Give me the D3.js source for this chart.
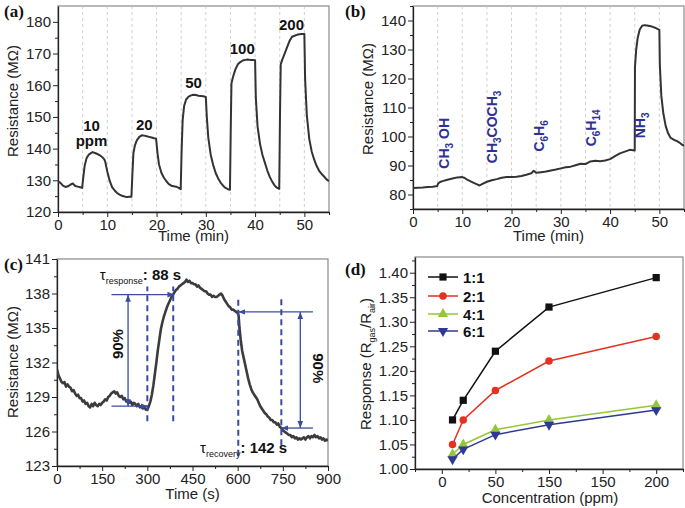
<!DOCTYPE html>
<html>
<head>
<meta charset="utf-8">
<script src="https://cdn.jsdelivr.net/npm/d3@7"></script>
<style>
  body { margin: 0; background: #fff; }
  svg { display: block; font-family: "Liberation Sans", Arial, sans-serif; }
  .tick text { font-family: "Liberation Sans", Arial, sans-serif; font-size: 15px; fill: #222; }
  .axis path, .axis line { stroke: #222; }
  .minor line { stroke: #222; }
  .title { font-size: 15px; fill: #222; }
  .plabel { font-family: "Liberation Serif", "Times New Roman", serif; font-weight: bold; font-size: 17px; fill: #111; }
</style>
</head>
<body>
<svg id="fig" width="685" height="508"></svg>
<script>
// ---- (a) response to NH3 concentrations: [time min, resistance MOhm]
const resistanceA = [
  [0,129.7],[0.5,129.2],[1,128.3],[1.5,127.9],[2,128.1],[2.5,128.6],[3,129.0],[3.5,128.2],[4,128.0],[4.5,127.8],[4.9,127.6],
  [5.1,130.5],[5.4,134.5],[5.8,137.0],[6.3,138.2],[7,138.9],[7.5,138.6],[8,138.3],[8.5,137.9],[9,137.3],[9.4,136.6],[9.6,135.8],
  [10,132.8],[10.5,129.8],[11,127.8],[11.5,126.8],[12,126.0],[12.5,125.5],[13,125.1],[13.5,124.9],[14,124.7],[14.5,124.8],[14.9,124.8],
  [15.1,132],[15.3,138.5],[15.6,141.0],[16,142.6],[16.5,143.7],[17,144.2],[17.5,144.1],[18,143.9],[18.5,143.7],[19,143.5],[19.5,143.3],[19.9,143.2],
  [20.2,138.5],[20.5,135.0],[21,132.3],[21.5,130.8],[22,129.7],[22.5,128.8],[23,128.3],[23.5,128.1],[24,128.0],[24.5,127.6],[24.9,127.2],
  [25.1,140],[25.3,149],[25.6,153.5],[26,155.5],[26.5,156.4],[27,156.8],[27.5,157.0],[28,156.9],[28.5,156.7],[29,156.6],[29.5,156.5],[30,156.3],
  [30.2,150],[30.5,143.5],[31,138.0],[31.5,134.8],[32,132.3],[32.5,130.6],[33,129.3],[33.5,128.3],[34,127.6],[34.5,127.2],[34.9,127.0],
  [35.05,145],[35.2,160.5],[35.5,162.5],[36,165.0],[36.5,166.6],[37,167.3],[37.5,167.8],[38,168.0],[38.5,168.1],[39,168.0],[39.5,168.0],[40,167.9],
  [40.15,156],[40.5,147],[41,141.5],[41.5,138.0],[42,135.5],[42.5,133.0],[43,131.0],[43.5,129.5],[44,128.3],[44.5,127.6],[44.9,127.3],
  [45.05,150],[45.2,166.6],[45.5,168.0],[46,170.0],[46.5,172.0],[47,174.0],[47.5,175.3],[48,175.6],[48.5,175.9],[49,176.1],[49.5,176.2],[50,176.2],
  [50.15,162],[50.5,150.5],[51,143.0],[51.5,139.0],[52,136.5],[52.5,134.5],[53,133.0],[53.5,132.0],[54,131.2],[54.5,130.3],[55,129.7]
];
const concLabelsA = [
  { text: "10", t: 6.8, r: 145.7 }, { text: "ppm", t: 6.8, r: 140.8 },
  { text: "20", t: 17.5, r: 145.8 }, { text: "50", t: 27.5, r: 159.1 },
  { text: "100", t: 37.4, r: 169.7 }, { text: "200", t: 47.4, r: 177.5 }
];

// ---- (b) selectivity: [time min, resistance MOhm]
const resistanceB = [
  [0,82.2],[1,82.3],[2,82.4],[3,82.6],[4,82.7],[4.9,82.9],[5.1,83.8],[5.5,84.3],[6,84.6],[7,85.1],[8,85.5],[9,85.9],[10,86.0],
  [10.5,85.7],[11,85.1],[12,84.3],[13,83.5],[13.5,83.1],[14,83.6],[15,84.4],[16,84.9],[17,85.3],[18,85.8],[19,86.0],[20,86.0],
  [21,86.1],[22,86.4],[23,86.8],[24,87.3],[24.5,88.2],[25,87.5],[26,87.7],[27,87.9],[28,88.3],[29,88.6],[30,89.0],[31,89.4],
  [32,89.6],[33,90.1],[34,90.6],[35,90.5],[36,91.4],[37,91.6],[38,91.5],[39,91.7],[40,92.2],[41,93.2],[42,94.2],[43,94.8],
  [44,95.4],[45,95.2],[45.05,124],[45.3,130],[45.6,134],[46,136.8],[46.5,138.2],[47,138.4],[47.5,138.3],[48,138.1],[48.5,137.9],
  [49,137.6],[49.5,137.2],[50,136.8],[50.1,124.5],[50.4,114],[50.8,108],[51.3,103.5],[51.8,101],[52.3,99.5],[53,98.8],
  [53.5,98.5],[54,98.0],[54.5,97.3],[55,96.8]
];
const gasLabelsB = [
  { text: "CH3 OH", t: 8.2, r: 88.9 },
  { text: "CH3COCH3", t: 17.9, r: 90.8 },
  { text: "C6H6", t: 27.3, r: 94.8 },
  { text: "C6H14", t: 37.9, r: 96.6 },
  { text: "NH3", t: 47.8, r: 99.4 }
];

// ---- (c) response / recovery at 10 ppm: [time s, resistance MOhm]
const resistanceC = [
  [0,131.4],[5,130.9],[10,130.6],[15,130.3],[20,130.2],[25,130.3],[30,129.9],[35,130.1],[40,129.9],[45,129.8],[50,129.5],
  [55,129.6],[60,129.3],[65,129.1],[70,129.2],[75,128.9],[80,128.9],[85,128.6],[90,128.7],[95,128.4],[100,128.5],[105,128.2],
  [110,128.1],[115,128.4],[120,128.2],[125,128.5],[130,128.3],[135,128.2],[140,128.4],[145,128.3],[150,128.5],[155,128.6],
  [160,128.8],[165,128.7],[170,129.0],[175,129.1],[180,129.3],[185,129.4],[190,129.5],[195,129.3],[200,129.4],[205,129.1],
  [210,129.0],[215,129.1],[220,128.8],[225,128.9],[230,128.6],[235,128.7],[240,128.5],[245,128.6],[250,128.3],[255,128.5],
  [260,128.4],[265,128.2],[270,128.4],[275,128.1],[280,128.2],[285,128.0],[290,128.1],[295,127.9],[300,127.9],[305,128.2],
  [310,128.6],[315,129.2],[320,130.0],[325,131.0],[330,132.0],[335,133.1],[340,134.0],[345,134.9],[350,135.5],[355,136.0],
  [360,136.4],[365,136.8],[370,137.1],[375,137.4],[380,137.7],[385,137.9],[390,138.1],[395,138.3],[400,138.4],[405,138.6],
  [410,138.7],[415,138.8],[420,138.9],[425,139.0],[430,139.2],[435,139.0],[440,139.1],[445,138.9],[450,138.9],[455,138.8],
  [460,138.8],[465,138.6],[470,138.7],[475,138.5],[480,138.4],[485,138.3],[490,138.2],[495,138.2],[500,138.0],[505,137.9],
  [510,137.9],[515,137.7],[520,137.8],[525,137.7],[530,137.7],[535,137.8],[540,137.9],[545,138.0],[550,137.8],[555,137.5],
  [560,137.3],[565,137.1],[570,136.9],[575,136.8],[580,136.6],[585,136.6],[590,136.5],[595,136.4],[600,136.3],[603,136.1],
  [606,135.0],[610,134.0],[615,133.0],[620,132.4],[625,131.8],[630,131.2],[635,130.6],[640,130.1],[645,129.7],[650,129.4],
  [655,129.2],[660,129.0],[665,128.8],[670,128.5],[675,128.2],[680,128.0],[685,127.8],[690,127.6],[695,127.5],[700,127.3],
  [705,127.2],[710,127.0],[715,127.0],[720,126.8],[725,126.8],[730,126.6],[735,126.7],[740,126.4],[745,126.3],[750,126.1],
  [755,126.0],[760,125.9],[765,125.8],[770,125.7],[775,125.7],[780,125.5],[785,125.6],[790,125.4],[795,125.5],[800,125.3],
  [805,125.4],[810,125.3],[815,125.4],[820,125.5],[825,125.3],[830,125.5],[835,125.6],[840,125.4],[845,125.6],[850,125.5],
  [855,125.7],[860,125.5],[865,125.6],[870,125.4],[875,125.5],[880,125.3],[885,125.4],[890,125.2],[895,125.3],[900,125.2]
];
// annotation geometry for (c), in data units
const arrowsC = [
  { t1: 181, r1: 137.9, t2: 390, r2: 137.9, start: false, end: true },
  { t1: 181, r1: 128.2, t2: 302, r2: 128.2, start: false, end: true },
  { t1: 236, r1: 128.2, t2: 236, r2: 137.9, start: true, end: true },
  { t1: 850, r1: 136.4, t2: 602, r2: 136.4, start: false, end: true },
  { t1: 850, r1: 126.3, t2: 745, r2: 126.3, start: false, end: true },
  { t1: 808, r1: 126.3, t2: 808, r2: 136.4, start: true, end: true }
];
const dashedC = [
  { t: 300, r1: 126.9, r2: 138.6 },
  { t: 386, r1: 126.9, r2: 138.6 },
  { t: 602, r1: 123.9, r2: 137.5 },
  { t: 745, r1: 124.8, r2: 137.5 }
];

// ---- (d) response vs concentration
const ratios = ["1:1", "2:1", "4:1", "6:1"];
const concPositions = [10, 20, 50, 100, 200];
const responseD = [
  [1.10, 1.14, 1.24, 1.33, 1.39],
  [1.05, 1.10, 1.16, 1.22, 1.27],
  [1.03, 1.05, 1.08, 1.10, 1.13],
  [1.02, 1.04, 1.07, 1.09, 1.12]
];
const concTickValues = [0, 50, 100, 150, 200];
const concTickLabels = ["0", "50", "150", "150", "200"];
const ratioColors = ["#111111", "#e5321f", "#93c63b", "#2e3a92"];
const ratioSymbols = [d3.symbolSquare, d3.symbolCircle, d3.symbolTriangle, d3.symbolTriangle];

const svg = d3.select("#fig");
const defs = svg.append("defs");
const annColor = "#3a4ba2";
const curveColor = "#333";

defs.append("marker").attr("id", "arr").attr("viewBox", "0 0 10 10")
  .attr("refX", 10).attr("refY", 5).attr("markerWidth", 7).attr("markerHeight", 7)
  .attr("markerUnits", "userSpaceOnUse").attr("orient", "auto-start-reverse")
  .append("path").attr("d", "M0,1 L10,5 L0,9 Z").attr("fill", annColor);

let clipId = 0;
function makePanel(o) {
  const x = d3.scaleLinear().domain(o.xDomain).range([o.left, o.right]);
  const y = d3.scaleLinear().domain(o.yDomain).range([o.bottom, o.top]);
  const g = svg.append("g");

  const id = "clip" + (clipId++);
  defs.append("clipPath").attr("id", id).append("rect")
    .attr("x", o.left).attr("y", o.top).attr("width", o.right - o.left).attr("height", o.bottom - o.top);

  g.append("rect")
    .attr("x", o.left).attr("y", o.top)
    .attr("width", o.right - o.left).attr("height", o.bottom - o.top)
    .attr("fill", "none").attr("stroke", "#8a8a8a").attr("stroke-width", 1.2);

  if (o.grid) {
    g.append("g").selectAll("line").data(o.grid).join("line")
      .attr("x1", d => x(d)).attr("x2", d => x(d))
      .attr("y1", o.top).attr("y2", o.bottom)
      .attr("stroke", "#c4c4c4").attr("stroke-width", 0.8).attr("stroke-dasharray", "3,3");
  }

  g.append("g").attr("class", "minor").attr("transform", `translate(0,${o.bottom})`)
    .call(d3.axisBottom(x).tickValues(o.xMinor).tickSize(3).tickFormat(""))
    .call(a => a.select(".domain").remove());
  g.append("g").attr("class", "minor").attr("transform", `translate(${o.left},0)`)
    .call(d3.axisLeft(y).tickValues(o.yMinor).tickSize(3).tickFormat(""))
    .call(a => a.select(".domain").remove());

  const xa = d3.axisBottom(x).tickValues(o.xTicks).tickSize(5).tickPadding(2).tickSizeOuter(0);
  if (o.xFormat) xa.tickFormat(o.xFormat);
  g.append("g").attr("class", "axis").attr("transform", `translate(0,${o.bottom})`).call(xa)
    .call(a => a.select(".domain").attr("stroke-width", 1.3));
  const ya = d3.axisLeft(y).tickValues(o.yTicks).tickSize(5).tickPadding(2).tickSizeOuter(0);
  if (o.yFormat) ya.tickFormat(o.yFormat);
  g.append("g").attr("class", "axis").attr("transform", `translate(${o.left},0)`).call(ya)
    .call(a => a.select(".domain").attr("stroke-width", 1.3));

  g.append("text").attr("class", "title")
    .attr("x", (o.left + o.right) / 2 + (o.xTitleDx || 0)).attr("y", o.xTitleY)
    .attr("text-anchor", "middle").text(o.xTitle);

  const yt = g.append("text").attr("class", "title")
    .attr("transform", `translate(${o.yTitleX},${o.yTitleY}) rotate(-90)`)
    .attr("text-anchor", "middle");
  if (typeof o.yTitle === "string") yt.text(o.yTitle);
  else o.yTitle(yt);

  svg.append("text").attr("class", "plabel").attr("x", o.labelX).attr("y", o.labelY).text(o.label);

  const plot = g.append("g").attr("clip-path", `url(#${id})`);
  return { x, y, g, plot };
}

const line = (x, y) => d3.line().x(d => x(d[0])).y(d => y(d[1]));

// ---------- (a)
const A = makePanel({
  left: 58, right: 329, top: 6, bottom: 212,
  xDomain: [0, 55], yDomain: [120, 185],
  xTicks: [0, 10, 20, 30, 40, 50], xMinor: [5, 15, 25, 35, 45, 55],
  yTicks: [120, 130, 140, 150, 160, 170, 180], yMinor: [125, 135, 145, 155, 165, 175],
  grid: [5, 10, 15, 20, 25, 30, 35, 40, 45, 50],
  xTitle: "Time (min)", xTitleY: 241, yTitle: "Resistance (M\u03A9)", yTitleX: 18, yTitleY: 101,
  label: "(a)", labelX: 4, labelY: 17
});
A.plot.append("path").datum(resistanceA).attr("d", line(A.x, A.y))
  .attr("fill", "none").attr("stroke", curveColor).attr("stroke-width", 2).attr("stroke-linejoin", "round");
A.g.append("g").selectAll("text").data(concLabelsA).join("text")
  .attr("x", d => A.x(d.t)).attr("y", d => A.y(d.r))
  .attr("text-anchor", "middle").attr("font-weight", "bold").attr("font-size", 15).attr("fill", "#111")
  .text(d => d.text);

// ---------- (b)
const B = makePanel({
  left: 413, right: 684, top: 6, bottom: 209,
  xDomain: [0, 55], yDomain: [75, 145],
  xTicks: [0, 10, 20, 30, 40, 50], xMinor: [5, 15, 25, 35, 45, 55],
  yTicks: [80, 90, 100, 110, 120, 130, 140], yMinor: [75, 85, 95, 105, 115, 125, 135, 145],
  grid: [5, 10, 15, 20, 25, 30, 35, 40, 45, 50],
  xTitle: "Time (min)", xTitleY: 241, yTitle: "Resistance (M\u03A9)", yTitleX: 373, yTitleY: 99,
  label: "(b)", labelX: 345, labelY: 17
});
B.plot.append("path").datum(resistanceB).attr("d", line(B.x, B.y))
  .attr("fill", "none").attr("stroke", curveColor).attr("stroke-width", 2).attr("stroke-linejoin", "round");
gasLabelsB.forEach(d => {
  const t = B.g.append("text")
    .attr("transform", `translate(${B.x(d.t)},${B.y(d.r)}) rotate(-90)`)
    .attr("font-weight", "bold").attr("font-size", 14).attr("fill", "#2e3192");
  d.text.split(/(\d+)/).filter(s => s.length).forEach(s => {
    if (/^\d+$/.test(s)) t.append("tspan").attr("font-size", 10).attr("dy", 4).text(s);
    else t.append("tspan").attr("dy", t.node().childNodes.length ? -4 : 0).text(s);
  });
});

// ---------- (c)
const C = makePanel({
  left: 57, right: 328, top: 259, bottom: 466,
  xDomain: [0, 900], yDomain: [123, 141],
  xTicks: [0, 150, 300, 450, 600, 750, 900], xMinor: [75, 225, 375, 525, 675, 825],
  yTicks: [123, 126, 129, 132, 135, 138, 141], yMinor: [124.5, 127.5, 130.5, 133.5, 136.5, 139.5],
  xTitle: "Time (s)", xTitleY: 499, yTitle: "Resistance (M\u03A9)", yTitleX: 18, yTitleY: 362,
  label: "(c)", labelX: 4, labelY: 270
});
C.plot.append("path").datum(resistanceC).attr("d", line(C.x, C.y))
  .attr("fill", "none").attr("stroke", "#3c3c3c").attr("stroke-width", 2.6).attr("stroke-linejoin", "round");
C.g.append("g").selectAll("line").data(dashedC).join("line")
  .attr("x1", d => C.x(d.t)).attr("x2", d => C.x(d.t))
  .attr("y1", d => C.y(d.r1)).attr("y2", d => C.y(d.r2))
  .attr("stroke", annColor).attr("stroke-width", 2).attr("stroke-dasharray", "6,4");
C.g.append("g").selectAll("line").data(arrowsC).join("line")
  .attr("x1", d => C.x(d.t1)).attr("x2", d => C.x(d.t2))
  .attr("y1", d => C.y(d.r1)).attr("y2", d => C.y(d.r2))
  .attr("stroke", annColor).attr("stroke-width", 1.3)
  .attr("marker-start", d => d.start ? "url(#arr)" : null)
  .attr("marker-end", d => d.end ? "url(#arr)" : null);
C.g.append("text").attr("transform", `translate(${C.x(220)},${C.y(133.6)}) rotate(-90)`)
  .attr("text-anchor", "middle").attr("font-weight", "bold").attr("font-size", 15).attr("fill", "#111").text("90%");
C.g.append("text").attr("transform", `translate(${C.x(850)},${C.y(131.5)}) rotate(90)`)
  .attr("text-anchor", "middle").attr("font-weight", "bold").attr("font-size", 15).attr("fill", "#111").text("90%");
function tauLabel(t, r, sub, rest) {
  const tx = C.g.append("text").attr("x", C.x(t)).attr("y", C.y(r)).attr("fill", "#111").attr("font-size", 15);
  tx.append("tspan").text("\u03C4");
  tx.append("tspan").attr("font-size", 9).attr("dy", 4).text(sub);
  tx.append("tspan").attr("dy", -4).attr("font-weight", "bold").text(rest);
}
tauLabel(142, 139.2, "response", ": 88 s");
tauLabel(475, 124.1, "recovery", ": 142 s");

// ---------- (d)
const D = makePanel({
  left: 415, right: 683, top: 257, bottom: 469,
  xDomain: [-25, 225], yDomain: [1.0, 1.432],
  xTicks: concTickValues, xMinor: [-25, 25, 75, 125, 175, 225],
  xFormat: (d, i) => concTickLabels[i],
  yTicks: [1.0, 1.05, 1.1, 1.15, 1.2, 1.25, 1.3, 1.35, 1.4],
  yMinor: [1.025, 1.075, 1.125, 1.175, 1.225, 1.275, 1.325, 1.375, 1.425],
  yFormat: d3.format(".2f"),
  xTitle: "Concentration (ppm)", xTitleDx: 1, xTitleY: 503,
  yTitle: t => {
    t.append("tspan").text("Response (R");
    t.append("tspan").attr("font-size", 9).attr("dy", 4).text("gas");
    t.append("tspan").attr("dy", -4).text("/R");
    t.append("tspan").attr("font-size", 9).attr("dy", 4).text("air");
    t.append("tspan").attr("dy", -4).text(")");
  },
  yTitleX: 371, yTitleY: 364,
  label: "(d)", labelX: 345, labelY: 275
});
responseD.forEach((vals, k) => {
  const pts = vals.map((v, i) => [concPositions[i], v]);
  D.g.append("path").datum(pts).attr("d", line(D.x, D.y))
    .attr("fill", "none").attr("stroke", ratioColors[k]).attr("stroke-width", 1.5);
  D.g.append("g").selectAll("path").data(pts).join("path")
    .attr("transform", d => `translate(${D.x(d[0])},${D.y(d[1])})` + (k === 3 ? " rotate(180)" : ""))
    .attr("d", d3.symbol().type(ratioSymbols[k]).size(k === 1 ? 44 : k >= 2 ? 46 : 52))
    .attr("fill", ratioColors[k]);
});
const legendRows = [277, 296, 314, 331];
ratios.forEach((name, k) => {
  const ly = legendRows[k];
  D.g.append("line").attr("x1", 428).attr("x2", 458).attr("y1", ly).attr("y2", ly)
    .attr("stroke", ratioColors[k]).attr("stroke-width", 1.5);
  D.g.append("path").attr("transform", `translate(443,${ly})` + (k === 3 ? " rotate(180)" : ""))
    .attr("d", d3.symbol().type(ratioSymbols[k]).size(k === 1 ? 44 : k >= 2 ? 46 : 52))
    .attr("fill", ratioColors[k]);
  D.g.append("text").attr("x", 463).attr("y", ly + 5.5).attr("font-weight", "bold")
    .attr("font-size", 15).attr("fill", "#111").text(name);
});
</script>
</body>
</html>
